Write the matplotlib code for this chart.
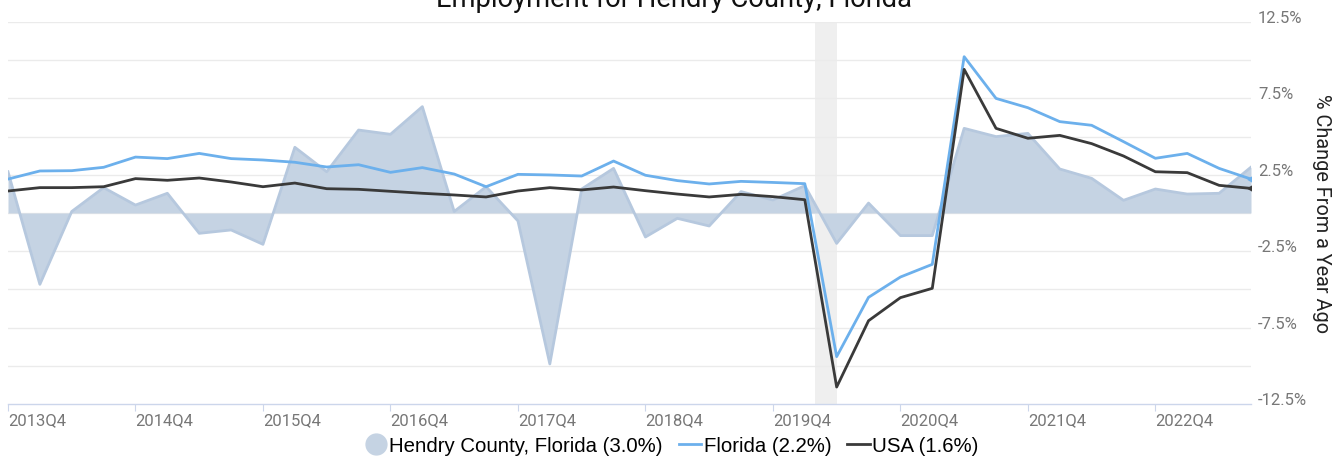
import matplotlib.pyplot as plt
import matplotlib.transforms as mtransforms
from matplotlib.lines import Line2D
import numpy as np

# quarterly % change from a year ago, 2013Q4 .. 2023Q3
quarters = [f"{y}Q{q}" for y in range(2013, 2024) for q in range(1, 5)][3:43]
hendry = [2.7, -4.67, 0.1, 1.66, 0.52, 1.29, -1.33, -1.11, -2.05, 4.3,
          2.7, 5.43, 5.15, 6.96, 0.1, 1.72, -0.52, -9.88, 1.57, 2.92,
          -1.57, -0.35, -0.85, 1.40, 0.85, 1.79, -1.99, 0.65, -1.48, -1.48,
          5.54, 5.0, 5.21, 2.88, 2.27, 0.83, 1.57, 1.24, 1.29, 3.0]
florida = [2.22, 2.75, 2.77, 2.99, 3.66, 3.56, 3.9, 3.56, 3.47, 3.32,
           3.01, 3.16, 2.66, 2.97, 2.55, 1.72, 2.53, 2.49, 2.42, 3.4,
           2.47, 2.12, 1.90, 2.07, 2.0, 1.92, -9.4, -5.52, -4.19, -3.36,
           10.23, 7.5, 6.89, 5.98, 5.74, 4.67, 3.58, 3.9, 2.92, 2.22]
usa = [1.44, 1.66, 1.66, 1.72, 2.25, 2.14, 2.29, 2.03, 1.72, 1.96,
       1.59, 1.55, 1.42, 1.29, 1.18, 1.05, 1.44, 1.66, 1.51, 1.70,
       1.46, 1.24, 1.05, 1.22, 1.07, 0.87, -11.39, -7.05, -5.54, -4.93,
       9.4, 5.54, 4.89, 5.08, 4.54, 3.73, 2.7, 2.64, 1.81, 1.61]
recession = (25.33, 26.0)

x = np.arange(len(quarters))
c_area = '#c5d3e3'
c_edge = '#b6c8de'
c_fl = '#6cb0ec'
c_us = '#3a3a3a'

plt.rcParams['font.family'] = ['Roboto', 'DejaVu Sans']
fig = plt.figure(figsize=(13.43, 4.64), dpi=100)
ax = fig.add_axes([8 / 1343, 59 / 464, 1243 / 1343, 382 / 464])

ax.axvspan(*recession, color='#efefef', zorder=0, lw=0)
for g in np.arange(-10, 12.6, 2.5):
    ax.axhline(g, color='#ebebeb', lw=1, zorder=0.5)

ax.fill_between(x, 0, hendry, color=c_area, lw=0, zorder=1)
ax.plot(x, hendry, color=c_edge, lw=2, zorder=1.5)
ax.plot(x, florida, color=c_fl, lw=2, zorder=3)
ax.plot(x, usa, color=c_us, lw=2, zorder=3)
ax.plot(x[-1], florida[-1], marker=(3, 0, -30), ms=5, color=c_fl, zorder=4)
ax.plot(x[-1], usa[-1], marker=(3, 0, -30), ms=5, color=c_us, zorder=4)

ax.set_xlim(0, len(x) - 1)
ax.set_ylim(-12.5, 12.5)
for s in ['top', 'left', 'right']:
    ax.spines[s].set_visible(False)
ax.spines['bottom'].set_color('#ccd6eb')
ax.spines['bottom'].set_linewidth(1)

xt = x[::4]
ax.set_xticks(xt)
ax.set_xticklabels([quarters[i] for i in xt], ha='left', color='#777777', fontsize=12)
ax.tick_params(axis='x', length=5, color='#ccd6eb', pad=1)

yt = [12.5, 7.5, 2.5, -2.5, -7.5, -12.5]
ax.yaxis.tick_right()
ax.set_yticks(yt)
ax.set_yticklabels([f"{v}%" for v in yt], color='#777777', fontsize=12)
ax.tick_params(axis='y', length=0, pad=5)
offset = mtransforms.ScaledTranslation(0, 6 / 100, fig.dpi_scale_trans)
for lab in ax.get_yticklabels():
    lab.set_transform(lab.get_transform() + offset)

ax.yaxis.set_label_position('right')
ax.set_ylabel('% Change From a Year Ago', rotation=270, fontsize=14.3,
              color='#222222', labelpad=17)

fig.text(0.502, 1 - 7 / 464, 'Employment for Hendry County, Florida',
         ha='center', va='baseline', fontsize=19.7, color='#111111')

handles = [
    Line2D([], [], marker='o', ls='', ms=15, color=c_area),
    Line2D([], [], color=c_fl, lw=2),
    Line2D([], [], color=c_us, lw=2),
]
labels = ['Hendry County, Florida (3.0%)', 'Florida (2.2%)', 'USA (1.6%)']
fig.legend(handles, labels, loc='center', bbox_to_anchor=(0.5, 1 - 447 / 464),
           ncol=3, frameon=False, handlelength=1.1, handletextpad=0.1,
           columnspacing=0.8, prop={'family': ['Liberation Sans'], 'size': 14.7})

fig.savefig('out.png', dpi=100)
